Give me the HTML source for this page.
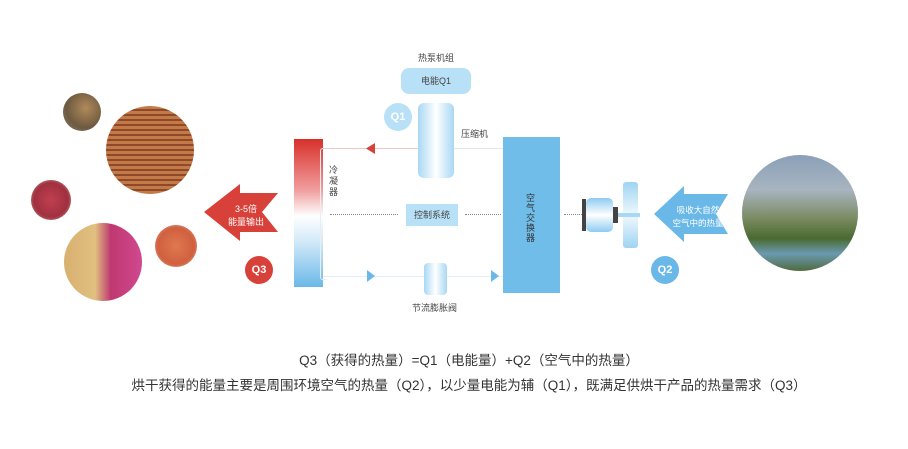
<!DOCTYPE html>
<html><head><meta charset="utf-8"><style>
body{margin:0;width:908px;height:449px;background:#fff;overflow:hidden;position:relative;font-family:"Liberation Sans","Noto Sans CJK SC",sans-serif;color:#333}
.a{position:absolute}
.t{position:absolute;font-size:9px;color:#444;white-space:nowrap}
.c{position:absolute;border-radius:50%}
</style></head><body>
<!-- food circles -->
<div class="c" style="left:63px;top:93px;width:38px;height:38px;background:radial-gradient(circle at 60% 40%,#b08a5a,#6e5a40 60%,#8a8070)"></div>
<div class="c" style="left:106px;top:106px;width:88px;height:88px;background:repeating-linear-gradient(180deg,#c47a48 0 3px,#8e4a28 3px 5px)"></div>
<div class="c" style="left:31px;top:180px;width:40px;height:40px;background:radial-gradient(circle,#c04050,#a03040 60%,#d8c0a0)"></div>
<div class="c" style="left:64px;top:223px;width:78px;height:78px;background:linear-gradient(90deg,#d8b070 0%,#e0c080 40%,#c03870 60%,#d04890 100%)"></div>
<div class="c" style="left:155px;top:225px;width:42px;height:42px;background:radial-gradient(circle,#e07850,#d06040 60%,#e8b090)"></div>
<!-- landscape -->
<div class="c" style="left:742px;top:155px;width:116px;height:116px;background:linear-gradient(180deg,#8aa0b8 0%,#a8b4c0 30%,#7a8a60 55%,#4a6a30 72%,#6a9ab0 85%,#506a40 100%)"></div>
<!-- red arrow -->
<svg class="a" style="left:200px;top:180px" width="82" height="70"><polygon points="4,32 40,4 40,13 78,13 62,32 78,52 40,52 40,61" fill="#d8403a"/></svg>
<div class="t" style="left:228px;top:203px;color:#fff;font-size:9px;text-align:center;line-height:13px">3-5倍<br>能量输出</div>
<div class="c" style="left:245px;top:256px;width:28px;height:28px;background:#d8403a;color:#fff;font-size:11px;font-weight:bold;text-align:center;line-height:28px">Q3</div>
<!-- condenser -->
<div class="a" style="left:294px;top:139px;width:29px;height:148px;background:linear-gradient(180deg,#d8302a 0%,#f0a0a0 35%,#fff 52%,#d0e8f8 70%,#6ab8e8 100%)"></div>
<div class="t" style="left:329px;top:165px;width:10px;line-height:11px;white-space:normal">冷凝器</div>
<div class="a" style="left:320px;top:148px;width:6px;height:130px;border:1px solid #e8eef4;border-right:none;border-radius:3px 0 0 3px"></div>
<!-- lines -->
<div class="a" style="left:323px;top:148px;width:95px;height:1px;background:#f0c8c8"></div>
<div class="a" style="left:454px;top:148px;width:49px;height:1px;background:#e4e8ec"></div>
<svg class="a" style="left:366px;top:143px" width="10" height="11"><polygon points="0,5.5 9,0 9,11" fill="#d8403a"/></svg>
<div class="a" style="left:330px;top:214px;width:68px;border-top:1px dotted #888"></div>
<div class="a" style="left:465px;top:214px;width:36px;border-top:1px dotted #888"></div>
<div class="a" style="left:323px;top:276px;width:180px;height:1px;background:#e4eef4"></div>
<svg class="a" style="left:367px;top:270px" width="10" height="12"><polygon points="0,0 8,6 0,12" fill="#6ab8e8"/></svg>
<svg class="a" style="left:491px;top:270px" width="10" height="12"><polygon points="0,0 8,6 0,12" fill="#6ab8e8"/></svg>
<!-- top -->
<div class="t" style="left:418px;top:51px">热泵机组</div>
<div class="a" style="left:401px;top:68px;width:70px;height:26px;border-radius:8px;background:#b8e0f6;font-size:9px;text-align:center;line-height:26px;color:#444">电能Q1</div>
<div class="c" style="left:384px;top:103px;width:28px;height:28px;background:#b8e0f6;color:#fff;font-size:11px;font-weight:bold;text-align:center;line-height:28px">Q1</div>
<div class="a" style="left:418px;top:103px;width:36px;height:75px;border-radius:6px;background:linear-gradient(90deg,#a8d8f4,#fff 50%,#a8d8f4)"></div>
<div class="t" style="left:461px;top:127px">压缩机</div>
<div class="a" style="left:406px;top:204px;width:52px;height:22px;background:#b8e0f6;font-size:9px;text-align:center;line-height:22px;color:#444">控制系统</div>
<div class="a" style="left:424px;top:263px;width:23px;height:32px;border-radius:4px;background:linear-gradient(90deg,#a8d8f4,#fff 50%,#a8d8f4)"></div>
<div class="t" style="left:412px;top:301px">节流膨胀阀</div>
<!-- exchanger -->
<div class="a" style="left:503px;top:137px;width:57px;height:156px;background:#70bdea"></div>
<div class="t" style="left:526px;top:193px;width:10px;line-height:10px;white-space:normal;color:#333">空气交换器</div>
<!-- motor & fan -->
<div class="a" style="left:564px;top:214px;width:18px;border-top:1px dotted #888"></div>
<div class="a" style="left:582px;top:199px;width:4px;height:32px;background:#444"></div>
<div class="a" style="left:586px;top:198px;width:27px;height:34px;border-radius:5px;background:linear-gradient(180deg,#8ecbf0,#fff 50%,#8ecbf0)"></div>
<div class="a" style="left:613px;top:207px;width:5px;height:16px;background:#444"></div>
<div class="a" style="left:623px;top:182px;width:15px;height:66px;border-radius:3px;background:linear-gradient(180deg,#9ed4f2,#e8f5fc 45%,#e8f5fc 55%,#9ed4f2)"></div>
<div class="a" style="left:618px;top:213px;width:22px;height:4px;background:#a8d8f4"></div>
<!-- blue arrow -->
<svg class="a" style="left:652px;top:184px" width="80" height="62"><polygon points="2,30 32,2 32,10 76,10 64,30 76,50 32,50 32,58" fill="#6ab8e8"/></svg>
<div class="t" style="left:670px;top:204px;width:56px;color:#fff;text-align:center;line-height:13px;font-size:8.5px">吸收大自然<br>空气中的热量</div>
<div class="c" style="left:651px;top:256px;width:28px;height:28px;background:#6ab8e8;color:#fff;font-size:11px;font-weight:bold;text-align:center;line-height:28px">Q2</div>
<!-- text -->
<div class="a" style="left:15px;width:908px;top:349px;text-align:center;font-size:13.5px;color:#333">Q3（获得的热量）=Q1（电能量）+Q2（空气中的热量）</div>
<div class="a" style="left:15px;width:908px;top:374px;text-align:center;font-size:13.5px;color:#333">烘干获得的能量主要是周围环境空气的热量（Q2），以少量电能为辅（Q1），既满足供烘干产品的热量需求（Q3）</div>
</body></html>
